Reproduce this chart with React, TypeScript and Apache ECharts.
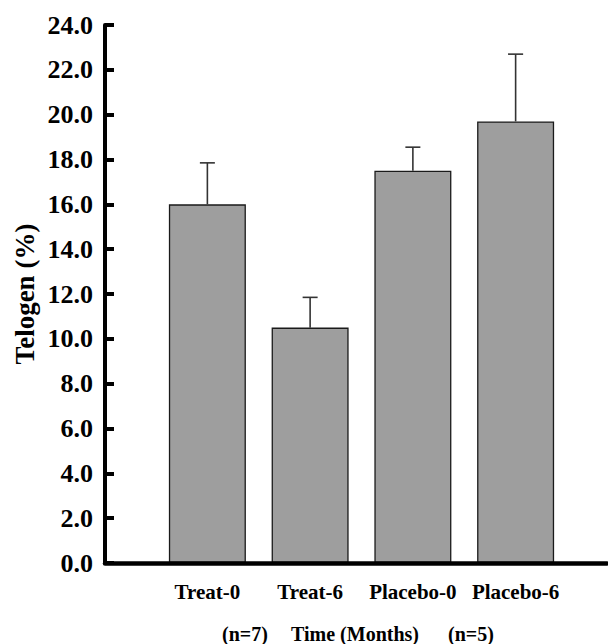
import React, { useEffect, useRef } from "react";
import * as echarts from "echarts";

const categories = ["Treat-0", "Treat-6", "Placebo-0", "Placebo-6"];
const means = [16.0, 10.5, 17.5, 19.7];
const errorTops = [17.85, 11.85, 18.55, 22.7];
const yMin = 0;
const yMax = 24;
const yInterval = 2;

const FONT = "'Liberation Serif', 'Times New Roman', serif";

export default function App() {
  const ref = useRef<HTMLDivElement>(null);
  useEffect(() => {
    if (!ref.current) return;
    const chart = echarts.init(ref.current, undefined, { renderer: "svg" });
    const errData = categories.map((_, i) => [i, means[i], errorTops[i]]);
    chart.setOption({
      animation: false,
      backgroundColor: "#ffffff",
      grid: [
        { left: 105, right: 1, top: 25, bottom: 81, containLabel: false },
        { left: 156, right: 41, top: 25, bottom: 81, containLabel: false },
      ],
      xAxis: [
        {
          gridIndex: 0,
          type: "category",
          data: [""],
          z: 5,
          axisLine: { show: true, lineStyle: { color: "#000", width: 4.5 } },
          axisTick: { show: false },
          axisLabel: { show: false },
          splitLine: { show: false },
        },
        {
          gridIndex: 1,
          type: "category",
          data: categories,
          axisLine: { show: false },
          axisTick: { show: false },
          axisLabel: {
            interval: 0,
            margin: 18,
            color: "#000",
            fontFamily: FONT,
            fontWeight: "bold",
            fontSize: 21,
          },
          splitLine: { show: false },
        },
      ],
      yAxis: [
        {
          gridIndex: 0,
          type: "value",
          min: yMin,
          max: yMax,
          interval: yInterval,
          z: 5,
          axisLine: { show: true, lineStyle: { color: "#000", width: 4 } },
          axisTick: {
            show: true,
            inside: true,
            length: 9,
            lineStyle: { color: "#000", width: 4 },
          },
          axisLabel: {
            margin: 12,
            color: "#000",
            fontFamily: FONT,
            fontWeight: "bold",
            fontSize: 26,
            formatter: (v: number) => v.toFixed(1),
          },
          splitLine: { show: false },
        },
        {
          gridIndex: 1,
          type: "value",
          min: yMin,
          max: yMax,
          interval: yInterval,
          show: false,
          splitLine: { show: false },
        },
      ],
      series: [
        {
          type: "bar",
          xAxisIndex: 1,
          yAxisIndex: 1,
          data: means,
          barWidth: 77,
          itemStyle: {
            color: "#9e9e9e",
            borderColor: "#1a1a1a",
            borderWidth: 1.3,
          },
        },
        {
          type: "custom",
          xAxisIndex: 1,
          yAxisIndex: 1,
          data: errData,
          z: 3,
          renderItem: (params: any, api: any) => {
            const x = api.value(0);
            const base = api.coord([x, api.value(1)]);
            const top = api.coord([x, api.value(2)]);
            const half = 7.5;
            const style = { stroke: "#333", lineWidth: 1.6 };
            return {
              type: "group",
              children: [
                {
                  type: "line",
                  shape: { x1: base[0], y1: base[1], x2: top[0], y2: top[1] },
                  style,
                },
                {
                  type: "line",
                  shape: { x1: top[0] - half, y1: top[1], x2: top[0] + half, y2: top[1] },
                  style,
                },
              ],
            };
          },
        },
      ],
      graphic: [
        {
          type: "text",
          x: 25,
          y: 294,
          rotation: Math.PI / 2,
          style: {
            text: "Telogen (%)",
            fontFamily: FONT,
            fontWeight: "bold",
            fontSize: 27,
            fill: "#000",
            align: "center",
            verticalAlign: "middle",
          },
        },
        {
          type: "text",
          x: 245,
          y: 634,
          style: {
            text: "(n=7)",
            fontFamily: FONT,
            fontWeight: "bold",
            fontSize: 20,
            fill: "#000",
            align: "center",
            verticalAlign: "middle",
          },
        },
        {
          type: "text",
          x: 355,
          y: 634,
          style: {
            text: "Time (Months)",
            fontFamily: FONT,
            fontWeight: "bold",
            fontSize: 20,
            fill: "#000",
            align: "center",
            verticalAlign: "middle",
          },
        },
        {
          type: "text",
          x: 471,
          y: 634,
          style: {
            text: "(n=5)",
            fontFamily: FONT,
            fontWeight: "bold",
            fontSize: 20,
            fill: "#000",
            align: "center",
            verticalAlign: "middle",
          },
        },
      ],
    });
    return () => chart.dispose();
  }, []);
  return (
    <div
      ref={ref}
      style={{ position: "absolute", left: 0, top: 0, width: 608, height: 644 }}
    />
  );
}
